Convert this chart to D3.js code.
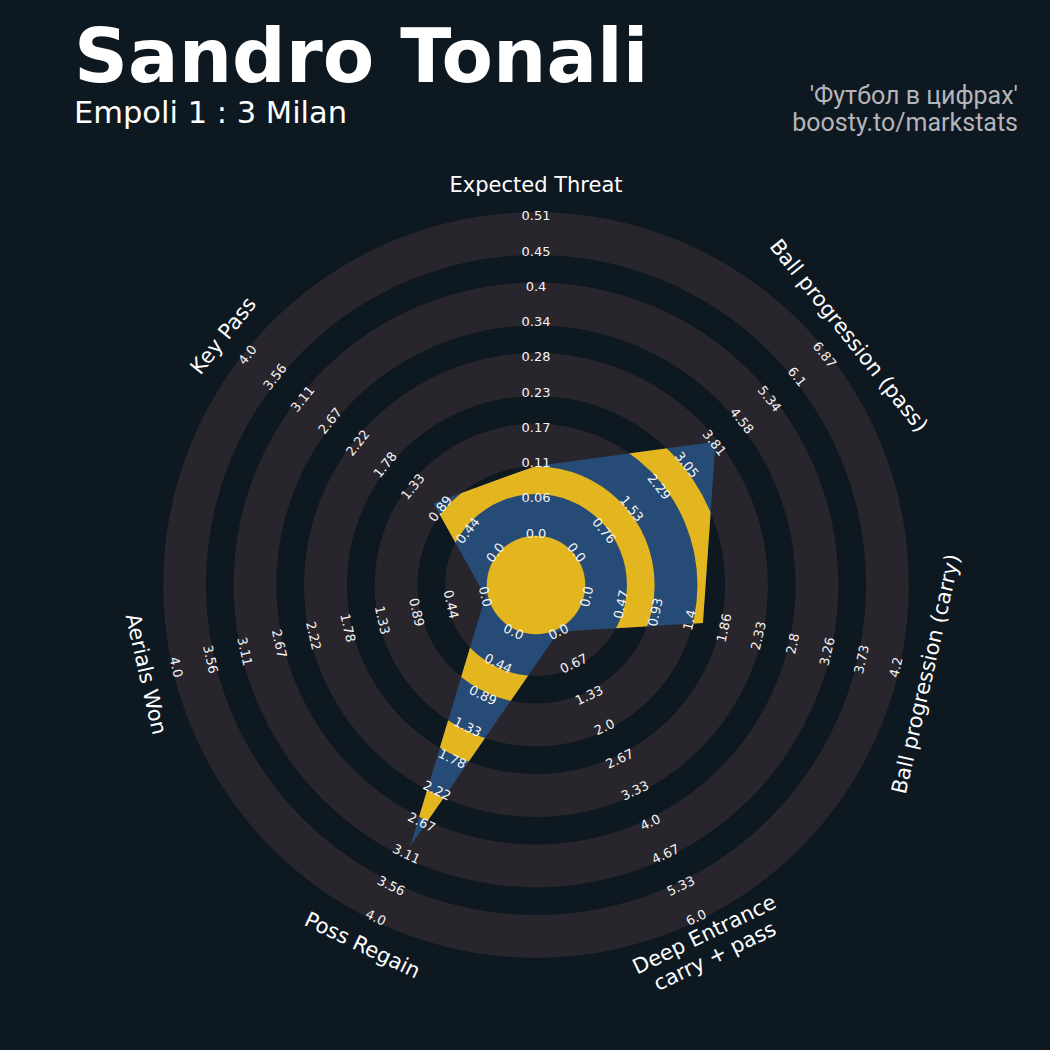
<!DOCTYPE html>
<html><head><meta charset="utf-8">
<script src="https://cdn.jsdelivr.net/npm/d3@7"></script>
<style>html,body{margin:0;padding:0;background:#0e1821;}svg{display:block;}</style>
</head><body>
<script>
const params = ["Expected Threat","Ball progression (pass)","Ball progression (carry)","Deep Entrance\ncarry + pass","Poss Regain","Aerials Won","Key Pass"];
const values = [0.108, 3.85, 1.58, 0, 3.0, 0, 1.0];
const minRange = [0, 0, 0, 0, 0, 0, 0];
const maxRange = [0.51, 6.87, 4.2, 6.0, 4.0, 4.0, 4.0];
const tickLabels = [
  ["0.0","0.06","0.11","0.17","0.23","0.28","0.34","0.4","0.45","0.51"],
  ["0.0","0.76","1.53","2.29","3.05","3.81","4.58","5.34","6.1","6.87"],
  ["0.0","0.47","0.93","1.4","1.86","2.33","2.8","3.26","3.73","4.2"],
  ["0.0","0.67","1.33","2.0","2.67","3.33","4.0","4.67","5.33","6.0"],
  ["0.0","0.44","0.89","1.33","1.78","2.22","2.67","3.11","3.56","4.0"],
  ["0.0","0.44","0.89","1.33","1.78","2.22","2.67","3.11","3.56","4.0"],
  ["0.0","0.44","0.89","1.33","1.78","2.22","2.67","3.11","3.56","4.0"]
];
const title = "Sandro Tonali";
const subtitle = "Empoli 1 : 3 Milan";
const credits = ["'Футбол в цифрах'", "boosty.to/markstats"];

const W = 1050, H = 1050, cx = 536, cy = 585;
const bg = "#0e1821", ringColor = "#28252c", blue = "#264b76", yellow = "#e3b51e";
const numBands = 9, edge = 3.8, centerR = 49.3, labelR = 400;

const svg = d3.select("body").append("svg").attr("width", W).attr("height", H);
svg.append("rect").attr("width", W).attr("height", H).attr("fill", bg);

const ring = d3.scaleLinear().domain([0, numBands]).range([51.9, 369.1]);
const g = svg.append("g").attr("transform", `translate(${cx},${cy})`);

// background rings
const arc = d3.arc().startAngle(0).endAngle(2 * Math.PI);
const evenBands = d3.range(0, numBands, 2);
const oddBands = d3.range(1, numBands, 2);
g.selectAll("path.ring").data(evenBands).join("path")
  .attr("d", k => arc({innerRadius: Math.max(0, ring(k) - edge), outerRadius: ring(k + 1) + edge}))
  .attr("fill", ringColor);

// radar polygon
const n = params.length;
const angle = i => i * 2 * Math.PI / n;
const scales = params.map((p, i) => d3.scaleLinear().domain([minRange[i], maxRange[i]]).range([ring(0), ring(numBands)]));
const radial = d3.lineRadial().angle((d, i) => angle(i)).radius((d, i) => scales[i](d)).curve(d3.curveLinearClosed);
const polyPath = radial(values);
svg.append("defs").append("clipPath").attr("id", "polyclip")
  .append("path").attr("d", polyPath);
g.append("path").attr("d", polyPath).attr("fill", blue);
g.append("g").attr("clip-path", "url(#polyclip)")
  .selectAll("path").data(oddBands).join("path")
  .attr("d", k => arc({innerRadius: ring(k) + edge, outerRadius: ring(k + 1) - edge}))
  .attr("fill", yellow);

// center circle
g.append("circle").attr("r", centerR).attr("fill", yellow);

function rot(deg) {
  if (deg <= 90) return deg;
  if (deg < 270) return deg - 180;
  return deg - 360;
}

// tick labels
params.forEach((p, i) => {
  const a = angle(i), deg = a * 180 / Math.PI;
  const step = (maxRange[i] - minRange[i]) / (tickLabels[i].length - 1);
  tickLabels[i].forEach((t, j) => {
    const r = scales[i](minRange[i] + j * step);
    const x = r * Math.sin(a), y = -r * Math.cos(a);
    g.append("text").attr("transform", `translate(${x},${y}) rotate(${rot(deg)})`)
      .attr("text-anchor", "middle").attr("dominant-baseline", "central")
      .attr("font-family", "DejaVu Sans").attr("font-size", 13).attr("fill", "#f4f4f4")
      .text(t);
  });
});

// param labels
params.forEach((p, i) => {
  const a = angle(i), deg = a * 180 / Math.PI;
  const x = labelR * Math.sin(a), y = -labelR * Math.cos(a);
  const lines = p.split("\n");
  const t = g.append("text").attr("transform", `translate(${x},${y}) rotate(${rot(deg)})`)
    .attr("text-anchor", "middle").attr("dominant-baseline", "central")
    .attr("font-family", "DejaVu Sans").attr("font-size", 21).attr("fill", "#ffffff");
  const lh = 24;
  lines.forEach((l, k) => {
    t.append("tspan").attr("x", 0).attr("y", (k - (lines.length - 1) / 2) * lh).text(l);
  });
});

// titles
svg.append("text").attr("x", 74).attr("y", 82).attr("font-family", "DejaVu Sans")
  .attr("font-weight", "bold").attr("font-size", 75).attr("fill", "#ffffff").text(title);
svg.append("text").attr("x", 74).attr("y", 123).attr("font-family", "DejaVu Sans")
  .attr("font-size", 30.5).attr("fill", "#ffffff").text(subtitle);
credits.forEach((c, k) => {
  svg.append("text").attr("x", 1018).attr("y", 104 + k * 27).attr("text-anchor", "end")
    .attr("font-family", "Roboto").attr("font-size", 25).attr("fill", "#b4b5bb").text(c);
});
</script>
</body></html>
